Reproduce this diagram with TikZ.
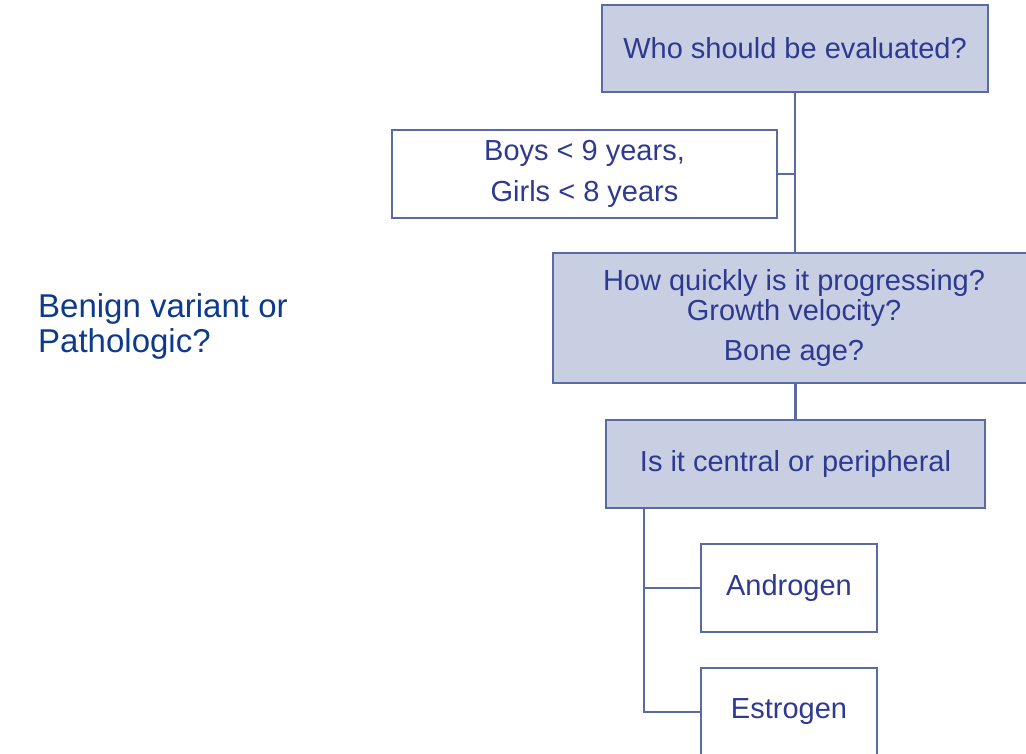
\documentclass[tikz,border=0pt]{standalone}
\usepackage{fontspec}
\setmainfont{Liberation Sans}
\definecolor{boxline}{HTML}{5A6BA3}
\definecolor{boxfill}{HTML}{C9CFE3}
\definecolor{boxtext}{HTML}{2E3991}
\definecolor{lefttext}{HTML}{0D3A8C}
\begin{document}
\begin{tikzpicture}[x=1pt,y=-1pt,
  box/.style={draw=boxline,line width=2.8pt,inner sep=0pt,align=center,text=boxtext,
    font=\fontsize{29}{41}\selectfont},
  filled/.style={box,fill=boxfill},
  conn/.style={draw=boxline,line width=2.8pt}]
\useasboundingbox (0,0) rectangle (1026,754);
\node[filled,minimum width=386pt,minimum height=87pt] (top) at (795,48.5) {Who should be evaluated?};
\node[box,minimum width=385pt,minimum height=88pt] (boys) at (584.5,174) {Boys < 9 years,\\Girls < 8 years};
\node[filled,minimum width=482pt,minimum height=130pt,font=\fontsize{29}{30}\selectfont] (mid) at (794,318) {How quickly is it progressing?\\Growth velocity?\\[10pt]Bone age?};
\node[filled,minimum width=379pt,minimum height=88pt] (central) at (795.5,464) {Is it central or peripheral};
\node[box,minimum width=176pt,minimum height=88pt] (andro) at (789,588) {Androgen};
\node[box,minimum width=176pt,minimum height=88pt] (estro) at (789,712) {Estrogen};
\node[anchor=west,inner sep=0pt,align=left,text=lefttext,font=\fontsize{33}{35}\selectfont] (q) at (38,326) {Benign variant or\\Pathologic?};
\coordinate (c1) at (644,508);
\draw[conn] (top.south) -- (top.south |- mid.north);
\draw[conn] (boys.east) -- (boys.east -| top.south);
\draw[conn] (central.north |- mid.south) -- (central.north);
\draw[conn] (c1) |- (andro.west);
\draw[conn] (c1) |- (estro.west);
\end{tikzpicture}
\end{document}
